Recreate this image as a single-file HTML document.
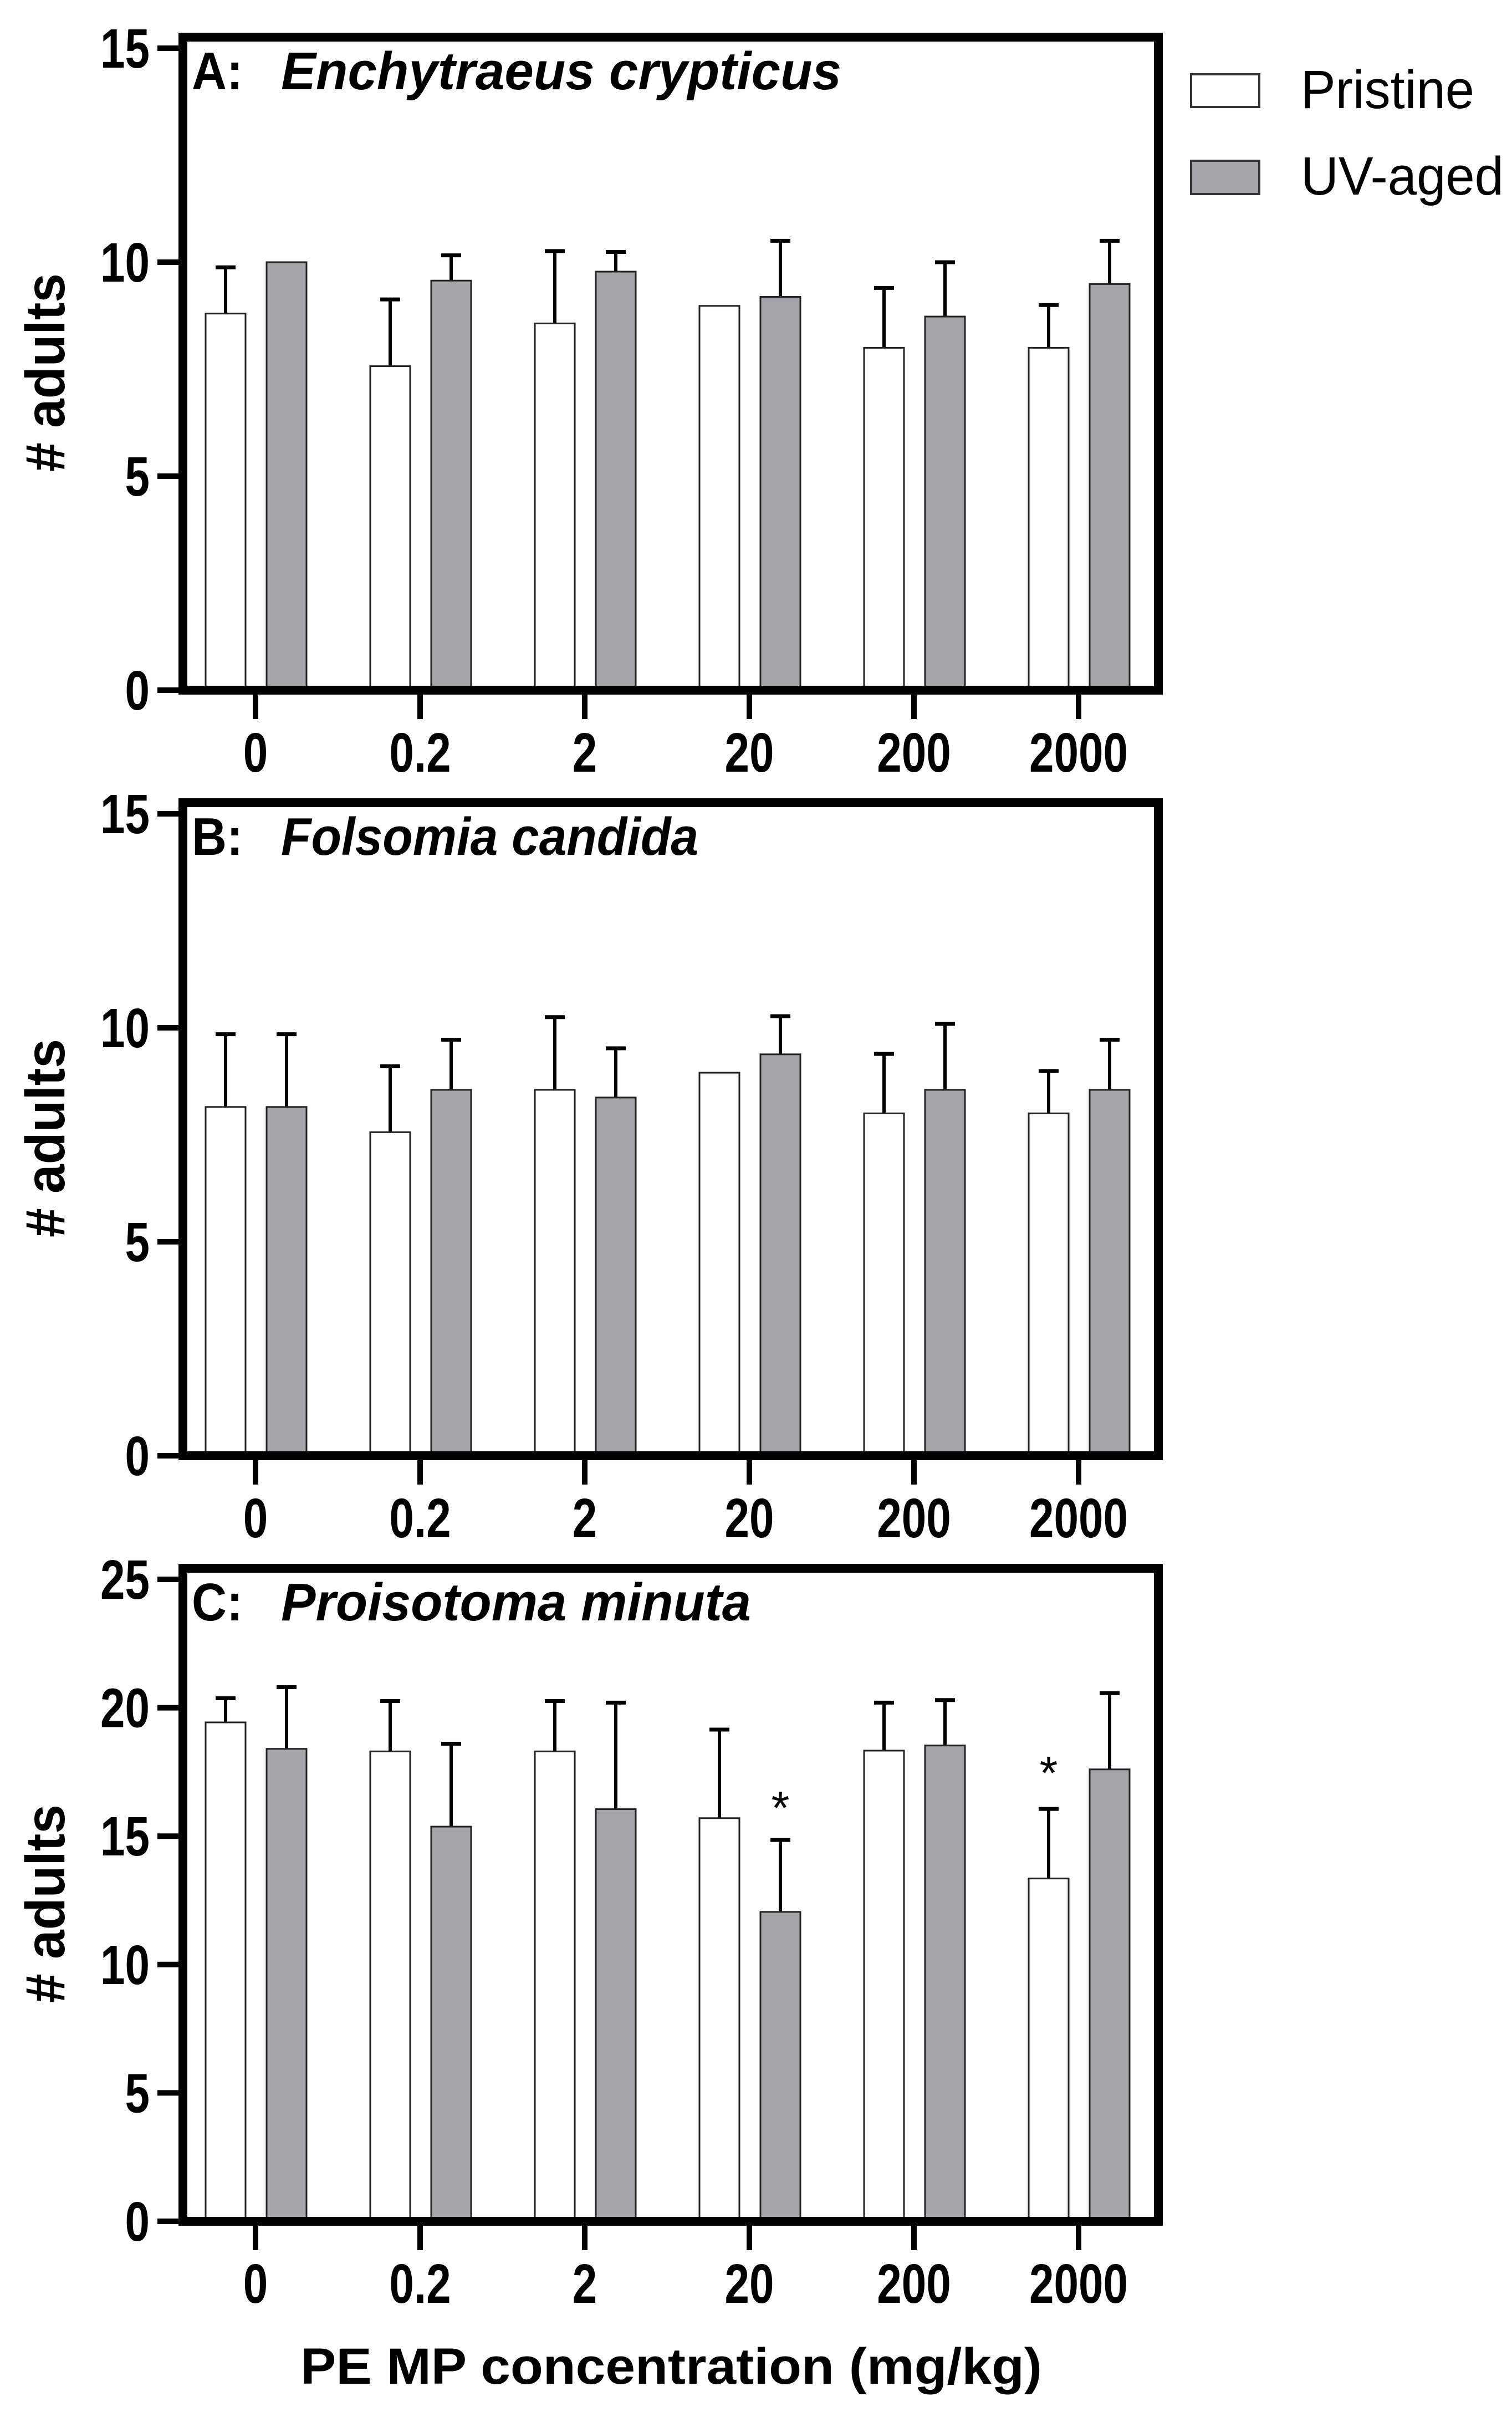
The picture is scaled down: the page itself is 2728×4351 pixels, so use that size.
<!DOCTYPE html>
<html><head><meta charset="utf-8"><style>
html,body{margin:0;padding:0;background:#fff;}
svg{display:block;}
text{font-family:"Liberation Sans",Arial,sans-serif;}
</style></head>
<body>
<svg id="fig" xmlns="http://www.w3.org/2000/svg" width="2728" height="4351" viewBox="0 0 2728 4351"></svg>
<script>
const categories = ["0","0.2","2","20","200","2000"];
const aPristine = [8.8, 7.57, 8.57, 8.98, 8.0, 8.0];
const aPristineTop = [9.88, 9.13, 10.26, 8.98, 9.4, 9.0];
const aUV = [10.0, 9.57, 9.78, 9.19, 8.73, 9.49];
const aUVTop = [10.0, 10.16, 10.24, 10.5, 10.0, 10.5];
const bPristine = [8.15, 7.56, 8.55, 8.95, 8.0, 8.0];
const bPristineTop = [9.85, 9.1, 10.25, 8.95, 9.39, 8.99];
const bUV = [8.15, 8.55, 8.37, 9.38, 8.55, 8.55];
const bUVTop = [9.85, 9.72, 9.52, 10.27, 10.09, 9.72];
const cPristine = [19.43, 18.3, 18.3, 15.7, 18.33, 13.35];
const cPristineTop = [20.37, 20.26, 20.26, 19.15, 20.2, 16.06];
const cUV = [18.4, 15.37, 16.05, 12.05, 18.53, 17.6];
const cUVTop = [20.8, 18.6, 20.2, 14.85, 20.3, 20.57];
const abTicks = [0, 5, 10, 15];
const cTicks = [0, 5, 10, 15, 20, 25];
const cStars = [[3, "uv", 16.3], [5, "p", 17.66]];

const NS = "http://www.w3.org/2000/svg";
const svg = document.getElementById("fig");
function el(tag, attrs, parent, txt){
  const e = document.createElementNS(NS, tag);
  for (const k in attrs) e.setAttribute(k, attrs[k]);
  if (txt !== undefined) e.textContent = txt;
  (parent || svg).appendChild(e);
  return e;
}
const X0 = 461, DX = 297, BW = 72;
function xCat(i){ return X0 + i*DX; }

function panel(idx, letter, species, titleLen, ymax, ticks, P, PT, U, UT, stars){
  const off = idx*1381;
  const zero = 1245 + off;
  const top = 67 + off;
  const unit = (1245 - 87) / ymax;
  const y = v => zero - v*unit;
  const g = el("g", {});
  
  
  for (let i = 0; i < categories.length; i++){
    const cx = xCat(i);
    const pairs = [[cx-54, P[i], PT[i], "#ffffff", "pristine"], [cx+56, U[i], UT[i], "#a5a5a9", "uv-aged"]];
    for (const [bx, v, t, fill, nm] of pairs){
      if (t > v + 0.01){
        const ln = el("line", {x1:bx, x2:bx, y1:y(v), y2:y(t), stroke:"#000", "stroke-width":6}, g);
        
        
        const cap = el("line", {x1:bx-18, x2:bx+18, y1:y(t), y2:y(t), stroke:"#000", "stroke-width":7}, g);
        
        
      }
      const r = el("rect", {x:bx-BW/2, y:y(v), width:BW, height:zero-y(v), fill:fill, stroke:"#222", "stroke-width":3}, g);
      
      
    }
  }
  for (const [i, s, v] of stars){
    const bx = xCat(i) + (s === "uv" ? 56 : -54);
    const st = el("text", {x:bx, y:y(v)+38, "font-size":84, "text-anchor":"middle"}, g, "*");
    
    
  }
  const fr = el("path", {d:`M330 ${zero} L330 ${top} L2090 ${top} L2090 ${zero} Z`, fill:"none", stroke:"#000", "stroke-width":16, "stroke-linejoin":"miter"}, g);
  
  
  for (const t of ticks){
    const tk = el("line", {x1:284, x2:330, y1:y(t), y2:y(t), stroke:"#000", "stroke-width":10}, g);
    
    
    const tl = el("text", {x:0, y:0, "font-size":100, "font-weight":"bold", "text-anchor":"end",
      transform:`translate(270 ${y(t)+35}) scale(0.8 1)`}, g, String(t));
    
    
  }
  for (let i = 0; i < categories.length; i++){
    const tk = el("line", {x1:xCat(i), x2:xCat(i), y1:zero, y2:zero+52, stroke:"#000", "stroke-width":10}, g);
    
    
    const tl = el("text", {x:0, y:0, "font-size":100, "font-weight":"bold", "text-anchor":"middle",
      transform:`translate(${xCat(i)} ${zero+147}) scale(0.8 1)`}, g, categories[i]);
    
    
  }
  const yt = el("text", {x:0, y:0, "font-size":100, "font-weight":"bold", "text-anchor":"middle",
    textLength:358, lengthAdjust:"spacingAndGlyphs",
    transform:`translate(116 ${zero-573}) rotate(-90)`}, g, "# adults");
  
  
  const pl = el("text", {x:346, y:161+off, "font-size":96, "font-weight":"bold", textLength:92, lengthAdjust:"spacingAndGlyphs"}, g, letter + ":");
  
  
  const pt = el("text", {x:507, y:161+off, "font-size":96, "font-weight":"bold", "font-style":"italic", textLength:titleLen, lengthAdjust:"spacingAndGlyphs"}, g, species);
  
  
}

panel(0, "A", "Enchytraeus crypticus", 1011, 15, abTicks, aPristine, aPristineTop, aUV, aUVTop, []);
panel(1, "B", "Folsomia candida", 753, 15, abTicks, bPristine, bPristineTop, bUV, bUVTop, []);
panel(2, "C", "Proisotoma minuta", 848, 25, cTicks, cPristine, cPristineTop, cUV, cUVTop, cStars);

const lg = el("g", {});


const l1 = el("rect", {x:2149, y:134, width:123, height:59, fill:"#fff", stroke:"#333", "stroke-width":4}, lg);


const t1 = el("text", {x:2347, y:195, "font-size":97, textLength:313, lengthAdjust:"spacingAndGlyphs"}, lg, "Pristine");


const l2 = el("rect", {x:2149, y:290, width:123, height:60, fill:"#a5a5a9", stroke:"#333", "stroke-width":4}, lg);


const t2 = el("text", {x:2347, y:351, "font-size":97, textLength:366, lengthAdjust:"spacingAndGlyphs"}, lg, "UV-aged");



const xt = el("text", {x:542, y:4300, "font-size":92, "font-weight":"bold", textLength:1338, lengthAdjust:"spacingAndGlyphs"}, svg, "PE MP concentration (mg/kg)");


</script>
</body></html>
